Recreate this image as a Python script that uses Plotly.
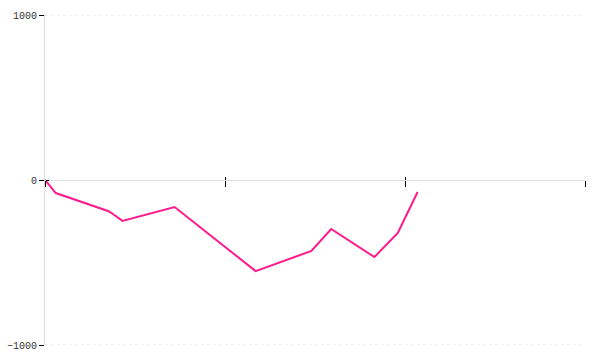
import plotly.graph_objects as go

# data
x_vals = [0, 0.6, 3.5, 3.7, 4.3, 7.2, 11.7, 14.8, 15.9, 18.3, 19.6, 20.7]
y_vals = [0, -79, -188, -200, -248, -164, -552, -430, -297, -467, -321, -73]
x_ticks = [0, 10, 20, 30]
y_ticks = [-1000, 0, 1000]
y_tick_text = ["\u22121000", "0", "1000"]
grid_levels = [-1000, 1000]

line_color = "#ff1a8c"
font = dict(family="Liberation Mono, DejaVu Sans Mono, monospace", size=10, color="#333")

fig = go.Figure()
fig.add_trace(go.Scatter(x=x_vals, y=y_vals, mode="lines",
                         line=dict(color=line_color, width=2), showlegend=False,
                         hoverinfo="skip"))

for g in grid_levels:
    fig.add_shape(type="line", xref="paper", x0=0, x1=1, yref="y", y0=g, y1=g,
                  line=dict(color="#e0e0e0", width=1, dash="dot"), layer="below")

fig.update_layout(
    width=600, height=360,
    margin=dict(l=45, r=15, t=15, b=15),
    paper_bgcolor="white", plot_bgcolor="white",
    font=font,
    showlegend=False,
    xaxis=dict(range=[0, 30], tickvals=x_ticks, showticklabels=False,
               showgrid=False, zeroline=False, showline=True, linecolor="#dddddd",
               linewidth=1, ticks="outside", ticklen=6, tickcolor="#000", tickwidth=1,
               anchor="free", position=0.5, automargin=False),
    yaxis=dict(range=[-1000, 1000], tickvals=y_ticks, ticktext=y_tick_text,
               showgrid=False, zeroline=False, showline=True, linecolor="#dddddd", linewidth=1,
               ticks="outside", ticklen=5, tickcolor="#000", tickwidth=1, automargin=False),
    xaxis2=dict(range=[0, 30], tickvals=x_ticks, showticklabels=False,
                showgrid=False, zeroline=False, showline=False,
                ticks="inside", ticklen=3, tickcolor="#000", tickwidth=1,
                overlaying="x", anchor="free", position=0.5, automargin=False),
    yaxis2=dict(range=[-1000, 1000], tickvals=y_ticks, showticklabels=False,
                showgrid=False, zeroline=False, showline=False,
                ticks="inside", ticklen=3, tickcolor="#000", tickwidth=1,
                overlaying="y", anchor="free", position=0, automargin=False),
)
fig.add_trace(go.Scatter(x=[None], y=[None], xaxis="x2", yaxis="y2",
                         showlegend=False, hoverinfo="skip"))

fig.write_html("out.html")
